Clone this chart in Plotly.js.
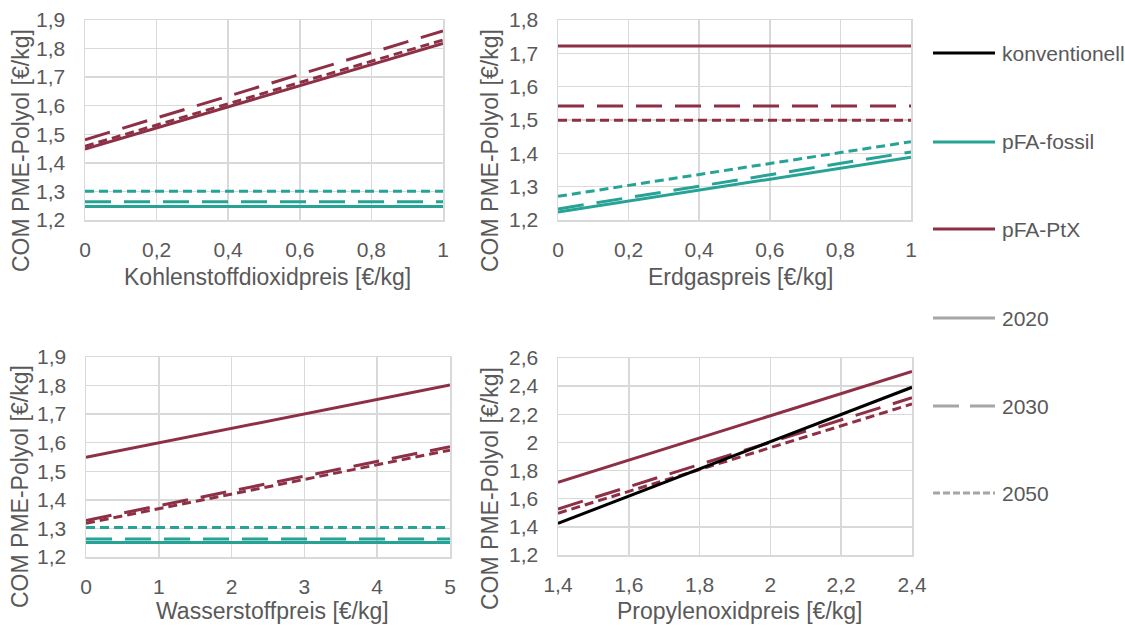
<!DOCTYPE html>
<html>
<head>
<meta charset="utf-8">
<script src="https://cdn.plot.ly/plotly-3.0.1.min.js"></script>
<style>html,body{margin:0;padding:0;background:#fff;}#chart{width:1125px;height:626px;}</style>
</head>
<body>
<div id="chart"></div>
<script>
// ---- Data ----
const co2Price = [0, 1];
const co2_ptx2020 = [1.448, 1.818];
const co2_ptx2030 = [1.481, 1.862];
const co2_ptx2050 = [1.458, 1.830];
const co2_fos2020 = [1.247, 1.247];
const co2_fos2030 = [1.264, 1.264];
const co2_fos2050 = [1.301, 1.301];

const gasPrice = [0, 1];
const gas_ptx2020 = [1.722, 1.722];
const gas_ptx2030 = [1.542, 1.542];
const gas_ptx2050 = [1.499, 1.499];
const gas_fos2020 = [1.224, 1.388];
const gas_fos2030 = [1.233, 1.404];
const gas_fos2050 = [1.271, 1.435];

const h2Price = [0, 5];
const h2_ptx2020 = [1.549, 1.802];
const h2_ptx2030 = [1.328, 1.586];
const h2_ptx2050 = [1.318, 1.574];
const h2_fos2020 = [1.251, 1.251];
const h2_fos2030 = [1.263, 1.263];
const h2_fos2050 = [1.303, 1.303];

const poPrice = [1.4, 2.4];
const po_konv = [1.425, 2.392];
const po_ptx2020 = [1.717, 2.505];
const po_ptx2030 = [1.527, 2.318];
const po_ptx2050 = [1.497, 2.273];

const xTitles = ["Kohlenstoffdioxidpreis [€/kg]", "Erdgaspreis [€/kg]", "Wasserstoffpreis [€/kg]", "Propylenoxidpreis [€/kg]"];
const yTitle = "COM PME-Polyol [€/kg]";
const legendLabels = ["konventionell", "pFA-fossil", "pFA-PtX", "2020", "2030", "2050"];

// ---- Styles ----
const TEAL = "#27A396";
const RED = "#8E3045";
const BLACK = "#000000";
const GREY = "#A6A6A6";
const TXT = "#595959";
const GRID = "#D9D9D9";
const FONT = "Liberation Sans, Arial, sans-serif";
const DASH = {"2020": "solid", "2030": "26px,13px", "2050": "9px,5px"};
const LW = 3;

function tr(x, y, color, year, xa, ya) {
  return {x: x, y: y, type: "scatter", mode: "lines", xaxis: xa, yaxis: ya,
    line: {color: color, width: LW, dash: DASH[year] || "solid"}, showlegend: false, hoverinfo: "skip"};
}

const data = [
  tr(co2Price, co2_fos2020, TEAL, "2020", "x", "y"),
  tr(co2Price, co2_fos2030, TEAL, "2030", "x", "y"),
  tr(co2Price, co2_fos2050, TEAL, "2050", "x", "y"),
  tr(co2Price, co2_ptx2020, RED, "2020", "x", "y"),
  tr(co2Price, co2_ptx2030, RED, "2030", "x", "y"),
  tr(co2Price, co2_ptx2050, RED, "2050", "x", "y"),

  tr(gasPrice, gas_fos2020, TEAL, "2020", "x2", "y2"),
  tr(gasPrice, gas_fos2030, TEAL, "2030", "x2", "y2"),
  tr(gasPrice, gas_fos2050, TEAL, "2050", "x2", "y2"),
  tr(gasPrice, gas_ptx2020, RED, "2020", "x2", "y2"),
  tr(gasPrice, gas_ptx2030, RED, "2030", "x2", "y2"),
  tr(gasPrice, gas_ptx2050, RED, "2050", "x2", "y2"),

  tr(h2Price, h2_fos2020, TEAL, "2020", "x3", "y3"),
  tr(h2Price, h2_fos2030, TEAL, "2030", "x3", "y3"),
  tr(h2Price, h2_fos2050, TEAL, "2050", "x3", "y3"),
  tr(h2Price, h2_ptx2020, RED, "2020", "x3", "y3"),
  tr(h2Price, h2_ptx2030, RED, "2030", "x3", "y3"),
  tr(h2Price, h2_ptx2050, RED, "2050", "x3", "y3"),

  tr(poPrice, po_ptx2020, RED, "2020", "x4", "y4"),
  tr(poPrice, po_ptx2030, RED, "2030", "x4", "y4"),
  tr(poPrice, po_ptx2050, RED, "2050", "x4", "y4"),
  tr(poPrice, po_konv, BLACK, "2020", "x4", "y4")
];

const W = 1125, H = 626;
function dx(a, b) { return [a / W, b / W]; }
function dy(top, bottom) { return [1 - bottom / H, 1 - top / H]; }

function xaxis(domain, range, dtick, anchor) {
  return {domain: domain, range: range, dtick: dtick, tick0: range[0], anchor: anchor,
    showgrid: true, gridcolor: GRID, gridwidth: 1.5, zeroline: false,
    showline: true, mirror: true, linecolor: GRID, linewidth: 1.5,
    ticks: "", ticklabelstandoff: 10, fixedrange: true,
    tickfont: {family: FONT, size: 21, color: TXT}};
}
function yaxis(domain, range, dtick, anchor) {
  return {domain: domain, range: range, dtick: dtick, tick0: range[0], anchor: anchor,
    showgrid: true, gridcolor: GRID, gridwidth: 1.5, zeroline: false,
    showline: true, mirror: true, linecolor: GRID, linewidth: 1.5,
    ticks: "", ticklabelstandoff: 14, fixedrange: true,
    tickfont: {family: FONT, size: 21, color: TXT}};
}

const annotations = [];
const titlePos = [[267, 277], [740, 277], [272, 611], [739, 611]];
xTitles.forEach((t, i) => {
  annotations.push({text: t, xref: "paper", yref: "paper", x: titlePos[i][0] / W, y: 1 - titlePos[i][1] / H,
    xanchor: "center", yanchor: "middle", showarrow: false, font: {family: FONT, size: 23, color: TXT}});
});
const yTitlePos = [[21, 151], [490, 150], [20, 487], [490, 488]];
yTitlePos.forEach(p => {
  annotations.push({text: yTitle, xref: "paper", yref: "paper", x: p[0] / W, y: 1 - p[1] / H, textangle: -90,
    xanchor: "center", yanchor: "middle", showarrow: false, font: {family: FONT, size: 23, color: TXT}});
});

// manual legend
const legY = [53, 142, 229, 318, 406, 493];
const legColors = [BLACK, TEAL, RED, GREY, GREY, GREY];
const legDash = ["solid", "solid", "solid", "solid", "26px,11px", "7px,3px"];
const shapes = [];
legendLabels.forEach((t, i) => {
  shapes.push({type: "line", xref: "paper", yref: "paper", x0: 933 / W, x1: 995 / W, y0: 1 - legY[i] / H, y1: 1 - legY[i] / H,
    line: {color: legColors[i], width: 3, dash: legDash[i]}});
  annotations.push({text: t, xref: "paper", yref: "paper", x: 1000 / W, y: 1 - legY[i] / H, xanchor: "left", yanchor: "middle",
    showarrow: false, font: {family: FONT, size: 21, color: TXT}});
});

const layout = {
  width: W, height: H, margin: {l: 0, r: 0, t: 0, b: 0},
  paper_bgcolor: "#fff", plot_bgcolor: "#fff",
  separators: ",.", showlegend: false,
  font: {family: FONT, color: TXT},
  xaxis: xaxis(dx(85, 443), [0, 1], 0.2, "y"),
  yaxis: yaxis(dy(20, 220), [1.2, 1.9], 0.1, "x"),
  xaxis2: xaxis(dx(558, 911), [0, 1], 0.2, "y2"),
  yaxis2: yaxis(dy(20, 220), [1.2, 1.8], 0.1, "x2"),
  xaxis3: xaxis(dx(86, 450), [0, 5], 1, "y3"),
  yaxis3: yaxis(dy(357, 557), [1.2, 1.9], 0.1, "x3"),
  xaxis4: xaxis(dx(558, 912), [1.4, 2.4], 0.2, "y4"),
  yaxis4: yaxis(dy(358, 555), [1.2, 2.6], 0.2, "x4"),
  annotations: annotations,
  shapes: shapes
};

Plotly.newPlot("chart", data, layout, {staticPlot: true, displayModeBar: false});
</script>
</body>
</html>
